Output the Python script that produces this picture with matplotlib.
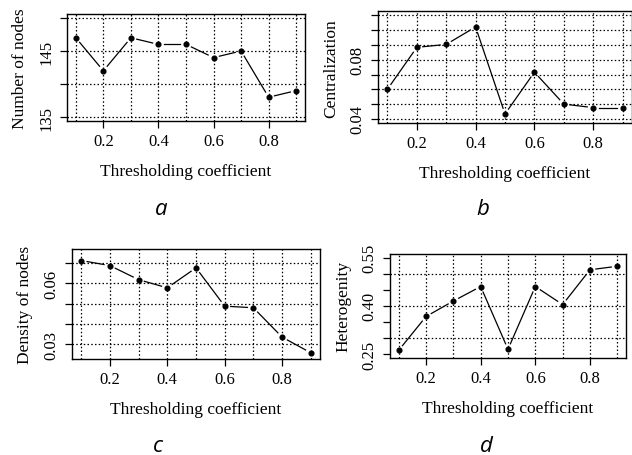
import numpy as np
import matplotlib
matplotlib.use("Agg")
import matplotlib.pyplot as plt

# ---------------- data ----------------
coef = [0.1, 0.2, 0.3, 0.4, 0.5, 0.6, 0.7, 0.8, 0.9]
nodes = [147, 142, 147, 146, 146, 144, 145, 138, 139]
centralization = [0.060, 0.0884, 0.0904, 0.1022, 0.0433, 0.0716, 0.050, 0.0476, 0.0476]
density = [0.0712, 0.0687, 0.0618, 0.0578, 0.0676, 0.0488, 0.0480, 0.0336, 0.0259]
heterogenity = [0.262, 0.367, 0.415, 0.460, 0.265, 0.460, 0.404, 0.512, 0.523]

x_ticks = [0.2, 0.4, 0.6, 0.8]
x_ticklabels = ["0.2", "0.4", "0.6", "0.8"]

panels = [
    dict(y=nodes, ylabel="Number of nodes", ylim=(135, 150),
         yticks=[135, 140, 145, 150], ylabels={135: "135", 145: "145"},
         ygrid=[135, 140, 145, 150], tag="a",
         box=(67, 305, 15, 122)),
    dict(y=centralization, ylabel="Centralization", ylim=(0.04, 0.11),
         yticks=[0.04, 0.05, 0.06, 0.07, 0.08, 0.09, 0.10, 0.11],
         ylabels={0.04: "0.04", 0.08: "0.08"},
         ygrid=[0.04, 0.05, 0.06, 0.07, 0.08, 0.09, 0.10, 0.11], tag="b",
         box=(378, 632, 12.3, 124)),
    dict(y=density, ylabel="Density of nodes", ylim=(0.025, 0.075),
         yticks=[0.03, 0.04, 0.05, 0.06, 0.07],
         ylabels={0.03: "0.03", 0.06: "0.06"},
         ygrid=[0.03, 0.04, 0.05, 0.06, 0.07], tag="c",
         box=(72, 320, 249.7, 359.7)),
    dict(y=heterogenity, ylabel="Heterogenity", ylim=(0.25, 0.55),
         yticks=[0.25, 0.30, 0.35, 0.40, 0.45, 0.50, 0.55],
         ylabels={0.25: "0.25", 0.40: "0.40", 0.55: "0.55"},
         ygrid=[0.30, 0.40, 0.50], tag="d",
         box=(390, 626, 254.7, 359)),
]
tag_pos = [(161.5, 215), (483, 215), (158, 452), (486, 452)]

W, H = 632, 456
fig = plt.figure(figsize=(W / 100, H / 100), dpi=100)
serif = ["Liberation Serif", "DejaVu Serif"]
dot = (0, (1.2, 1.8))

for p, (tx, ty) in zip(panels, tag_pos):
    x0, x1, y0, y1 = p["box"]
    ax = fig.add_axes([x0 / W, 1 - y1 / H, (x1 - x0) / W, (y1 - y0) / H])
    # R-style 4% padding
    xr = (0.1, 0.9)
    dx = (xr[1] - xr[0]) * 0.04
    ax.set_xlim(xr[0] - dx, xr[1] + dx)
    lo, hi = p["ylim"]
    dy = (hi - lo) * 0.04
    ax.set_ylim(lo - dy, hi + dy)

    for xv in coef:
        ax.axvline(xv, color="black", lw=0.9, ls=dot, zorder=1)
    for yv in p["ygrid"]:
        ax.axhline(yv, color="black", lw=0.9, ls=dot, zorder=1)

    ax.set_xticks(x_ticks)
    ax.set_xticklabels(x_ticklabels, fontfamily=serif, fontsize=12)
    ax.set_yticks(p["yticks"])
    ax.set_yticklabels([p["ylabels"].get(round(t, 4), p["ylabels"].get(t, ""))
                        for t in p["yticks"]],
                       fontfamily=serif, fontsize=12, rotation=90, va="center")
    ax.tick_params(axis="both", direction="out", length=5, width=0.9,
                   color="black")
    ax.tick_params(axis="x", pad=4)
    ax.tick_params(axis="y", pad=4)
    for s in ax.spines.values():
        s.set_linewidth(1.0)

    ax.set_xlabel("Thresholding coefficient", fontfamily=serif, fontsize=12.5,
                  va="center", ha="center")
    ax.xaxis.set_label_coords(0.5, -50 / (y1 - y0))
    ax.set_ylabel(p["ylabel"], fontfamily=serif, fontsize=12.5,
                  va="center", ha="center")
    ax.yaxis.set_label_coords(-47 / (x1 - x0), 0.5)

    # points
    ax.plot(coef, p["y"], ls="none", marker="o", ms=3.4, color="black",
            zorder=3)
    # lines with gaps around points (R type = "b")
    pts = ax.transData.transform(np.column_stack([coef, p["y"]]))
    inv = ax.transData.inverted()
    gap = 6.0
    for a, b in zip(pts[:-1], pts[1:]):
        d = b - a
        L = np.hypot(*d)
        if L <= 2 * gap:
            continue
        u = d / L
        s = inv.transform([a + u * gap, b - u * gap])
        ax.plot(s[:, 0], s[:, 1], color="black", lw=0.9, zorder=2)

    fig.text(tx / W, 1 - ty / H, p["tag"], fontfamily=["Open Sans", "DejaVu Sans"],
             style="italic", fontsize=16, ha="center", va="baseline")

fig.savefig("out.png", dpi=100)
